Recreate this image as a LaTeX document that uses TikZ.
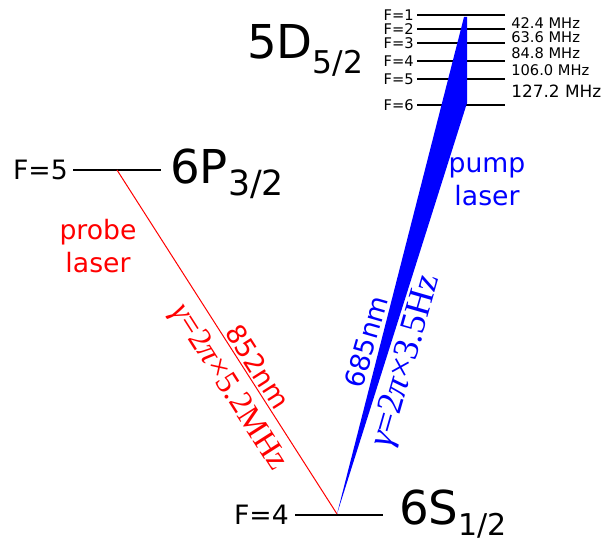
\documentclass[tikz,border=0pt]{standalone}
\usepackage{fontspec}
\setmainfont{DejaVu Sans}
\newfontfamily\ratefont{Liberation Serif}
\usetikzlibrary{positioning,calc}

\tikzset{
  level/.style={line width=1.5pt},
  hfsline/.style={line width=1.5pt},
  flabel/.style={anchor=east,inner sep=0pt,font=\fontsize{20}{20}\selectfont},
  hfslabel/.style={anchor=east,inner sep=0pt,font=\fontsize{11}{11}\selectfont},
  mhzlabel/.style={anchor=west,inner sep=0pt,font=\fontsize{11}{11}\selectfont},
  term/.style={anchor=base west,inner sep=0pt,font=\fontsize{35}{35}\selectfont},
  lasername/.style={align=center,font=\fontsize{20}{25}\selectfont},
  wavelength/.style={inner sep=0pt,font=\fontsize{20}{20}\selectfont},
  linewidth/.style={inner sep=0pt,font=\fontsize{24.5}{24.5}\selectfont\ratefont},
}
\newcommand{\subterm}[3]{\raisebox{-#1}{\fontsize{#2}{#2}\selectfont #3}}

\begin{document}
\begin{tikzpicture}[x=0.75pt,y=-0.75pt]
  \useasboundingbox (0,0) rectangle (601,541);
  % 6S1/2 ground state
  \coordinate (s4l) at (295,515); \coordinate (s4r) at (383,515);
  \coordinate (apex) at (337,514);
  \draw[level] (s4l) -- (s4r);
  \node[flabel] (f4) at ($(s4l)+(-6,0)$) {F=4};
  \node[term] (S) at (399,525) {6S\subterm{8pt}{22.5}{1/2}};
  % 6P3/2 intermediate state
  \coordinate (p5l) at (73,170); \coordinate (p5r) at (161,170);
  \coordinate (p5) at (117,170);
  \draw[level] (p5l) -- (p5r);
  \node[flabel] (f5) at ($(p5l)+(-5,0)$) {F=5};
  \node[term] (P) at (170,184) {6P\subterm{8.5pt}{26}{3/2}};
  % 5D5/2 hyperfine levels
  \foreach \F/\y in {1/15,2/29,3/43,4/61,5/79,6/105} {
    \coordinate (d\F l) at (417,\y); \coordinate (d\F r) at (505,\y);
    \draw[hfsline] (d\F l) -- (d\F r);
    \node[hfslabel] (fd\F) at ($(d\F l)+(-3,0)$) {F=\F};
  }
  \node[term] (D) at (247,59) {5D\subterm{11pt}{23.5}{5/2}};
  \node[mhzlabel] (m1) at (511,23) {42.4 MHz};
  \node[mhzlabel] (m2) at (511,37.5) {63.6 MHz};
  \node[mhzlabel] (m3) at (511,53.5) {84.8 MHz};
  \node[mhzlabel] (m4) at (511,70.5) {106.0 MHz};
  \node[mhzlabel,font=\fontsize{12.7}{12.7}\selectfont] (m5) at (511,91.5) {127.2 MHz};
  % probe transition
  \draw[red,line width=0.75pt] (p5) -- (apex);
  \node[lasername,red] (probe) at (98,246) {probe\\laser};
  \node[wavelength,red,rotate=-57.5] (lp) at (258,367) {852nm};
  \node[linewidth,red,rotate=-57.5] (gp) at (228,388) {{\itshape γ}=2{\itshape π}×5.2MHz};
  % pump transition
  \fill[blue] (apex) -- (464,17) -- (467,17) -- (467,103) -- cycle;
  \node[lasername,blue] (pump) at (487,182) {pump\\laser};
  \node[wavelength,blue,rotate=74] (lu) at (366,342) {685nm};
  \node[linewidth,blue,rotate=74,font=\fontsize{27}{27}\selectfont\ratefont] (gu) at (407,361) {{\itshape γ}=2{\itshape π}×3.5Hz};
\end{tikzpicture}
\end{document}
